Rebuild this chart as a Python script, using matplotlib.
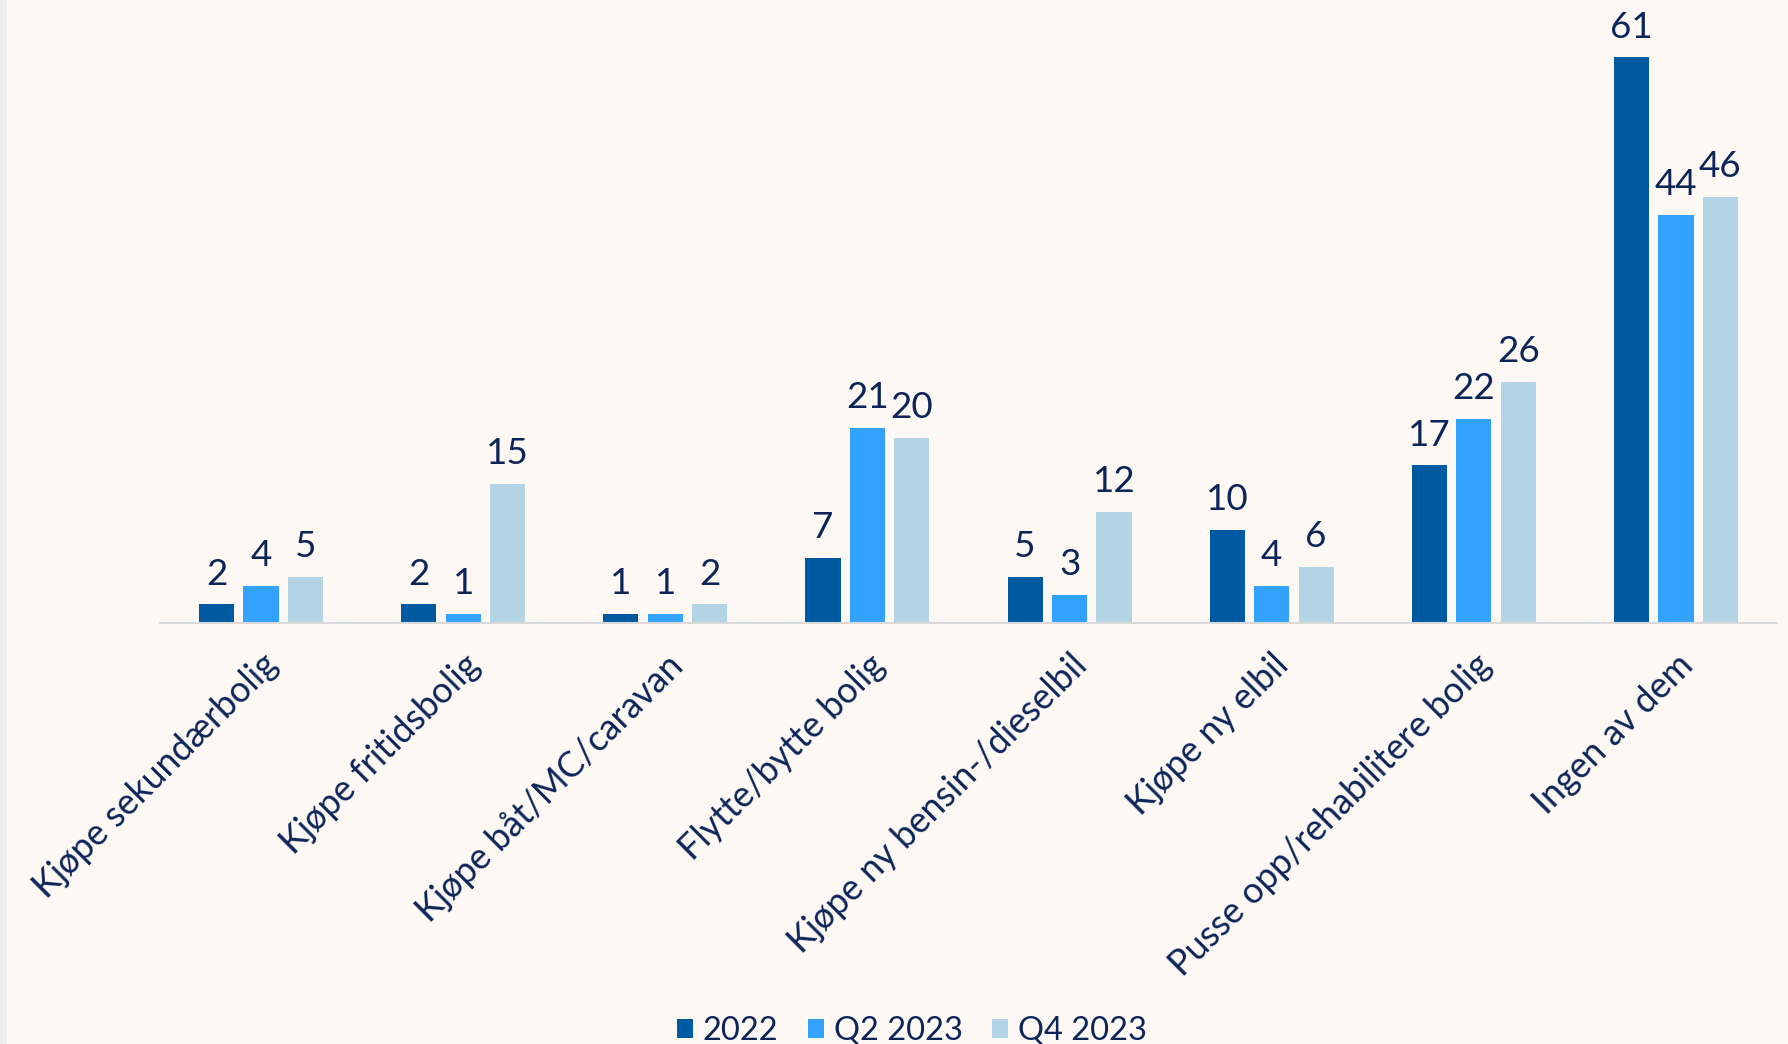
import numpy as np
import matplotlib.pyplot as plt
from matplotlib.patches import Rectangle

categories = ['Kjøpe sekundærbolig', 'Kjøpe fritidsbolig', 'Kjøpe båt/MC/caravan',
              'Flytte/bytte bolig', 'Kjøpe ny bensin-/dieselbil', 'Kjøpe ny elbil',
              'Pusse opp/rehabilitere bolig', 'Ingen av dem']
series_names = ['2022', 'Q2 2023', 'Q4 2023']
v2022 = [2, 2, 1, 7, 5, 10, 17, 61]
vq2_2023 = [4, 1, 1, 21, 3, 4, 22, 44]
vq4_2023 = [5, 15, 2, 20, 12, 6, 26, 46]

colors = ['#005AA2', '#33A2FE', '#B3D4E5']
text_col = '#0C2559'
bg = '#FDF8F4'

plt.rcParams['font.family'] = ['Lato', 'DejaVu Sans']

fig = plt.figure(figsize=(17.88, 10.44), dpi=100, facecolor=bg)
# grå stripe langs venstre kant
fig.patches.append(Rectangle((0, 0), 7 / 1788, 1, transform=fig.transFigure,
                             facecolor='#EFEFEF', edgecolor='none', zorder=0))
ax = fig.add_axes([160 / 1788, 1 - 623 / 1044, (1777 - 160) / 1788, 623 / 1044])
ax.set_facecolor(bg)

x = np.arange(len(categories))
w = 0.174
step = 0.22
for i, (vals, name) in enumerate(zip([v2022, vq2_2023, vq4_2023], series_names)):
    bars = ax.bar(x + (i - 1) * step, vals, width=w, color=colors[i], label=name)
    ax.bar_label(bars, padding=10, fontsize=26.5, color=text_col)

ax.set_xlim(-0.5, len(categories) - 0.5)
ax.set_ylim(0, 67.2)
ax.set_yticks([])
for s in ['top', 'left', 'right']:
    ax.spines[s].set_visible(False)
ax.spines['bottom'].set_color('#D9D9D9')
ax.spines['bottom'].set_linewidth(1.5)
ax.set_xticks(x)
ax.set_xticklabels(categories, rotation=45, ha='right', rotation_mode='anchor',
                   fontsize=25.7, color=text_col)
ax.tick_params(axis='x', length=0, pad=18)
for lab in ax.get_xticklabels():
    lab.set_x(lab.get_position()[0])

leg = fig.legend(loc='lower center', bbox_to_anchor=(0.51, -0.03), ncol=3, frameon=False,
                 fontsize=23.5, handlelength=0.5, handleheight=0.5, handletextpad=0.3,
                 columnspacing=0.9)
for t in leg.get_texts():
    t.set_color(text_col)

fig.savefig('out.png', dpi=100, facecolor=bg)
